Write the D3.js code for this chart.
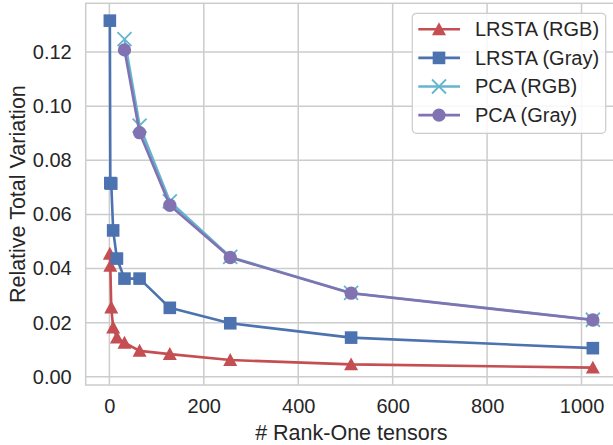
<!DOCTYPE html>
<html>
<head>
<meta charset="utf-8">
<script src="https://cdn.jsdelivr.net/npm/d3@7"></script>
<style>
  body { margin: 0; background: #fff; }
  text { font-family: "Liberation Sans", Arial, sans-serif; fill: #262626; }
</style>
</head>
<body>
<div id="chart"></div>
<script>
// rank counts used for each method
const ranksLrsta = [1, 2, 4, 8, 16, 32, 64, 128, 256, 512, 1024];
const ranksPca = [32, 64, 128, 256, 512, 1024];

const lrstaRgb = [0.0455, 0.0410, 0.0256, 0.0182, 0.0145, 0.0126, 0.0096, 0.0084, 0.0062, 0.0046, 0.0034];
const lrstaGray = [0.1316, 0.0716, 0.0714, 0.0541, 0.0437, 0.0363, 0.0363, 0.0255, 0.0198, 0.0145, 0.0106];
const pcaRgb = [0.1248, 0.0928, 0.0648, 0.0443, 0.0310, 0.0211];
const pcaGray = [0.1208, 0.0902, 0.0634, 0.0441, 0.0309, 0.0210];

const xTicks = [0, 200, 400, 600, 800, 1000];
const yTicks = [0, 0.02, 0.04, 0.06, 0.08, 0.10, 0.12];

const series = [
  {label: "LRSTA (RGB)", x: ranksLrsta, y: lrstaRgb, color: "#C44E52", marker: "triangle"},
  {label: "LRSTA (Gray)", x: ranksLrsta, y: lrstaGray, color: "#4C72B0", marker: "square"},
  {label: "PCA (RGB)", x: ranksPca, y: pcaRgb, color: "#64B5CD", marker: "x"},
  {label: "PCA (Gray)", x: ranksPca, y: pcaGray, color: "#8172B2", marker: "circle"}
];

const W = 613, H = 445;
const plot = {left: 85.7, top: 3.3, right: 617, bottom: 385};

const svg = d3.select("#chart").append("svg")
  .attr("width", W).attr("height", H);

// matplotlib style 5% margins
const allX = series.flatMap(s => s.x), allY = series.flatMap(s => s.y);
const xMin = d3.min(allX), xMax = d3.max(allX);
const yMin = d3.min(allY), yMax = d3.max(allY);
const xPad = 0.05 * (xMax - xMin), yPad = 0.05 * (yMax - yMin);

const xScale = d3.scaleLinear().domain([xMin - xPad, xMax + xPad]).range([plot.left, plot.right]);
const yScale = d3.scaleLinear().domain([yMin - yPad, yMax + yPad]).range([plot.bottom, plot.top]);

const grid = svg.append("g");
grid.selectAll(".gx").data(xTicks).enter().append("line")
  .attr("x1", d => xScale(d)).attr("x2", d => xScale(d))
  .attr("y1", plot.top).attr("y2", plot.bottom)
  .attr("stroke", "#cccccc").attr("stroke-width", 1.5);
grid.selectAll(".gy").data(yTicks).enter().append("line")
  .attr("x1", plot.left).attr("x2", plot.right)
  .attr("y1", d => yScale(d)).attr("y2", d => yScale(d))
  .attr("stroke", "#cccccc").attr("stroke-width", 1.5);

svg.append("rect")
  .attr("x", plot.left).attr("y", plot.top)
  .attr("width", plot.right - plot.left).attr("height", plot.bottom - plot.top)
  .attr("fill", "none").attr("stroke", "#cccccc").attr("stroke-width", 1.5);

// axes: labels only, seaborn whitegrid has no tick marks
const xAxis = svg.append("g")
  .attr("transform", "translate(0," + plot.bottom + ")")
  .call(d3.axisBottom(xScale).tickValues(xTicks).tickSize(0).tickPadding(14).tickFormat(d3.format("d")));
const yAxis = svg.append("g")
  .attr("transform", "translate(" + plot.left + ",0)")
  .call(d3.axisLeft(yScale).tickValues(yTicks).tickSize(0).tickPadding(14).tickFormat(d3.format(".2f")));
[xAxis, yAxis].forEach(a => {
  a.select(".domain").remove();
  a.selectAll("text").attr("font-size", 20).attr("fill", "#262626")
    .attr("font-family", "Liberation Sans, Arial, sans-serif");
});

svg.append("text")
  .attr("x", (plot.left + plot.right) / 2).attr("y", 440)
  .attr("text-anchor", "middle").attr("font-size", 21.5)
  .text("# Rank-One tensors");
svg.append("text")
  .attr("transform", "translate(25," + ((plot.top + plot.bottom) / 2) + ") rotate(-90)")
  .attr("text-anchor", "middle").attr("font-size", 21.5)
  .text("Relative Total Variation");

function drawMarker(g, type, color, size) {
  const s = size / 2;
  if (type === "triangle") {
    g.append("path").attr("d", `M0,${-s}L${s},${s * 0.85}L${-s},${s * 0.85}Z`).attr("fill", color);
  } else if (type === "square") {
    g.append("rect").attr("x", -s * 0.9).attr("y", -s * 0.9)
      .attr("width", s * 1.8).attr("height", s * 1.8).attr("fill", color);
  } else if (type === "circle") {
    g.append("circle").attr("r", s * 0.95).attr("fill", color);
  } else {
    g.append("path").attr("d", `M${-s},${-s}L${s},${s}M${-s},${s}L${s},${-s}`)
      .attr("stroke", color).attr("stroke-width", 1.8).attr("fill", "none");
  }
}

const line = d3.line().x(d => xScale(d[0])).y(d => yScale(d[1]));
const lines = svg.append("g");
series.forEach(s => {
  const pts = s.x.map((x, i) => [x, s.y[i]]);
  const g = lines.append("g");
  g.append("path").datum(pts).attr("d", line)
    .attr("fill", "none").attr("stroke", s.color).attr("stroke-width", 2.6)
    .attr("stroke-linejoin", "round");
  pts.forEach(p => {
    const m = g.append("g").attr("transform", `translate(${xScale(p[0])},${yScale(p[1])})`);
    drawMarker(m, s.marker, s.color, 14);
  });
});

// legend
const lg = svg.append("g").attr("transform", "translate(412.3,13.3)");
lg.append("rect").attr("width", 193.4).attr("height", 120).attr("rx", 4)
  .attr("fill", "white").attr("fill-opacity", 0.85)
  .attr("stroke", "#cccccc").attr("stroke-width", 1.2);
series.forEach((s, i) => {
  const y = 16 + i * 28.6;
  lg.append("line").attr("x1", 6).attr("x2", 47.7).attr("y1", y).attr("y2", y)
    .attr("stroke", s.color).attr("stroke-width", 2.6);
  drawMarker(lg.append("g").attr("transform", `translate(26.7,${y})`), s.marker, s.color, 14);
  lg.append("text").attr("x", 62.7).attr("y", y + 7).attr("font-size", 20).text(s.label);
});
</script>
</body>
</html>
